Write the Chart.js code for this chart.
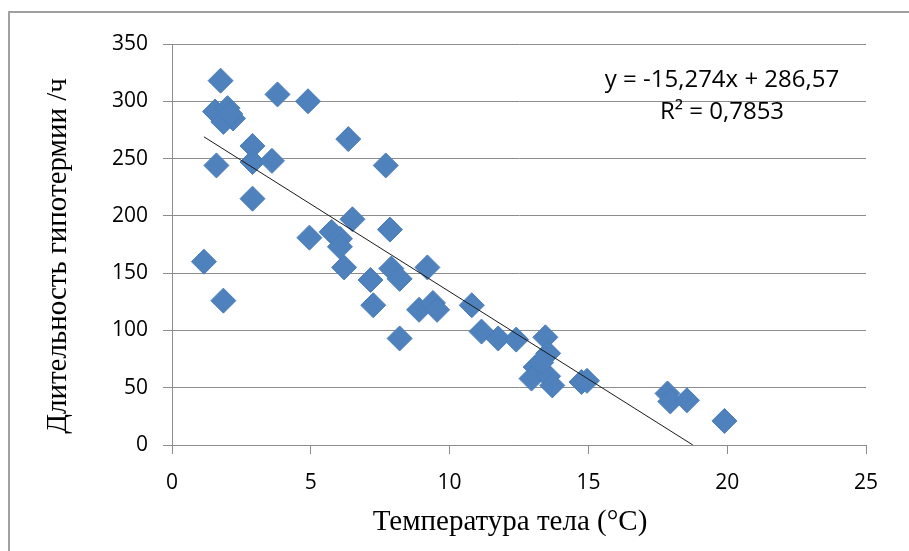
<!DOCTYPE html>
<html>
<head>
<meta charset="utf-8">
<script src="https://cdn.jsdelivr.net/npm/chart.js@4/dist/chart.umd.min.js"></script>
<style>
  body { margin: 0; background: #fff; }
  #wrap { position: relative; width: 909px; height: 551px; }
  #frame { position: absolute; left: 8px; top: 11px; right: -5px; bottom: -5px; border-left: 2px solid #a0a0a0; border-top: 2px solid #a0a0a0; }
  canvas { position: absolute; left: 0; top: 0; }
</style>
</head>
<body>
<div id="wrap">
  <div id="frame"></div>
  <canvas id="myChart" width="909" height="551"></canvas>
</div>
<script>
// body temperature (°C) and hypothermia duration (h)
var tempX = [1.15, 1.75, 1.55, 2.0, 2.2, 1.85, 2.1, 1.6, 1.85, 2.9, 2.9, 3.6, 2.9, 3.8, 4.9,
    6.35, 7.7, 6.5, 4.95, 5.75, 6.05, 6.05, 6.2, 7.85, 7.15, 7.9, 8.2, 9.2, 7.25, 8.9,
    9.4, 9.55, 10.8, 8.2, 11.15, 11.75, 12.4, 13.45, 13.55, 13.1, 12.95, 13.55, 13.7, 13.3,
    14.75, 14.95, 17.85, 17.95, 18.55, 19.9];
var hoursY = [160, 318, 291, 294, 285, 282, 289, 244, 126, 261, 247, 248, 215, 306, 300,
    267, 244, 197, 181, 186, 180, 173, 155, 188, 144, 154, 145, 155, 122, 118,
    124, 118, 122, 93, 99, 93, 92, 94, 80, 68, 58, 60, 52, 72,
    55, 56, 45, 38, 39, 21];

var xTicks = [0, 5, 10, 15, 20, 25];
var yTicks = [0, 50, 100, 150, 200, 250, 300, 350];

// linear trend shown on the chart
var slope = -15.274;
var intercept = 286.57;
var eqText = ['y = -15,274x + 286,57', 'R² = 0,7853'];

var points = [];
for (var i = 0; i < tempX.length; i++) {
    points.push({ x: tempX[i], y: hoursY[i] });
}
var xMin = Math.min.apply(null, tempX);
var trend = [{ x: xMin, y: slope * xMin + intercept }, { x: -intercept / slope, y: 0 }];

var gridColor = '#8c8c8c';

var textPlugin = {
    id: 'textPlugin',
    afterDraw: function (chart) {
        var ctx = chart.ctx;
        ctx.save();
        ctx.fillStyle = '#000';
        ctx.textAlign = 'center';
        ctx.textBaseline = 'middle';
        // trend equation
        ctx.font = '24px "Open Sans"';
        ctx.fillText(eqText[0], 722, 80);
        ctx.fillText(eqText[1], 722, 112);
        // axis titles
        ctx.font = '29px "Liberation Serif"';
        ctx.fillText('Температура тела (°C)', 510, 522);
        ctx.translate(58, 256);
        ctx.rotate(-Math.PI / 2);
        ctx.fillText('Длительность гипотермии /ч', 0, 0);
        ctx.restore();
    }
};

var ctx = document.getElementById('myChart').getContext('2d');

var chart = new Chart(ctx, {
    type: 'scatter',
    data: {
        datasets: [{
            label: 'Trend',
            type: 'line',
            data: trend,
            borderColor: '#1a1a1a',
            borderWidth: 1,
            pointRadius: 0,
            fill: false,
            order: 0
        }, {
            label: 'Data',
            data: points,
            pointStyle: 'rectRot',
            pointRadius: 12.5,
            backgroundColor: '#4f81bd',
            borderColor: '#4a7ebb',
            borderWidth: 1,
            order: 1
        }]
    },
    options: {
        responsive: false,
        animation: false,
        layout: { padding: { top: 44, right: 43, left: 0, bottom: 0 } },
        plugins: {
            legend: { display: false },
            tooltip: { enabled: false }
        },
        scales: {
            x: {
                type: 'linear',
                min: 0,
                max: 25,
                afterBuildTicks: function (axis) {
                    axis.ticks = xTicks.map(function (v) { return { value: v }; });
                },
                afterFit: function (axis) { axis.height = 106; },
                border: { color: gridColor, width: 1 },
                grid: { drawOnChartArea: false, drawTicks: true, tickLength: 9, color: gridColor },
                ticks: { color: '#000', padding: 16, font: { family: 'Open Sans', size: 21 } }
            },
            y: {
                min: 0,
                max: 350,
                afterBuildTicks: function (axis) {
                    axis.ticks = yTicks.map(function (v) { return { value: v }; });
                },
                afterFit: function (axis) { axis.width = 172; },
                border: { color: gridColor, width: 1 },
                grid: { color: gridColor, tickLength: 9 },
                ticks: { color: '#000', padding: 15, font: { family: 'Open Sans', size: 21 } }
            }
        }
    },
    plugins: [textPlugin]
});
</script>
</body>
</html>
